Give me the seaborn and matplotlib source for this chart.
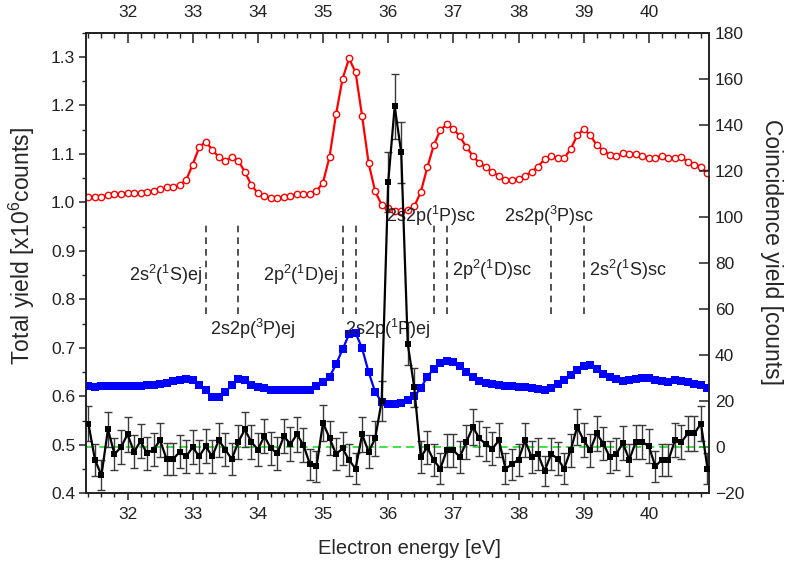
import numpy as np
import pandas as pd
import matplotlib
matplotlib.use("Agg")
import matplotlib.pyplot as plt
import seaborn as sns
from matplotlib.ticker import MultipleLocator, FormatStrFormatter

# ---- data -------------------------------------------------------------
energy = np.round(np.arange(314, 410) / 10.0, 1)  # 31.4 ... 40.9 eV, 0.1 eV steps

yield_scan_a = [
    1.012, 1.012, 1.012, 1.015, 1.017, 1.018,
    1.019, 1.019, 1.019, 1.021, 1.024, 1.027, 1.031, 1.031, 1.036, 1.046,
    1.078, 1.114, 1.125, 1.109, 1.093, 1.086, 1.093, 1.086, 1.063, 1.036,
    1.019, 1.014, 1.010, 1.010, 1.012, 1.014, 1.017, 1.017, 1.017, 1.023,
    1.041, 1.094, 1.182, 1.255, 1.297, 1.268, 1.178, 1.081, 1.023, 0.995,
    0.988, 0.983, 0.982, 0.985, 0.992, 1.021, 1.072, 1.118, 1.149, 1.161,
    1.152, 1.136, 1.114, 1.096, 1.081, 1.072, 1.062, 1.055, 1.047, 1.046,
    1.049, 1.055, 1.063, 1.074, 1.089, 1.096, 1.091, 1.091, 1.110, 1.138,
    1.151, 1.139, 1.118, 1.107, 1.098, 1.096, 1.101, 1.100, 1.100, 1.096,
    1.092, 1.092, 1.096, 1.091, 1.091, 1.093, 1.084, 1.078, 1.074, 1.060,
]

yield_scan_b = [
    0.621, 0.620, 0.621, 0.621, 0.622, 0.621,
    0.621, 0.621, 0.622, 0.623, 0.624, 0.626, 0.628, 0.631, 0.633, 0.635,
    0.634, 0.624, 0.614, 0.599, 0.598, 0.608, 0.624, 0.635, 0.634, 0.623,
    0.620, 0.617, 0.613, 0.613, 0.613, 0.613, 0.613, 0.613, 0.614, 0.621,
    0.630, 0.640, 0.666, 0.697, 0.728, 0.731, 0.699, 0.650, 0.609, 0.588,
    0.584, 0.584, 0.587, 0.592, 0.600, 0.617, 0.640, 0.657, 0.668, 0.673,
    0.670, 0.662, 0.650, 0.640, 0.631, 0.628, 0.625, 0.623, 0.622, 0.621,
    0.619, 0.619, 0.618, 0.616, 0.613, 0.618, 0.625, 0.633, 0.643, 0.654,
    0.662, 0.664, 0.657, 0.647, 0.640, 0.635, 0.632, 0.633, 0.635, 0.637,
    0.637, 0.633, 0.632, 0.630, 0.633, 0.631, 0.629, 0.626, 0.623, 0.617,
]

coincidence = [
    10.3, -5.4, -12.2, 7.8, -3.0, 0.0,
    5.6, -2.0, 2.6, -2.7, -1.0, 3.0, -5.2, -5.2, -2.0, -4.0,
    0.0, -4.0, 0.4, -4.0, 3.0, -1.0, -5.2, 2.3, 7.7, 2.3,
    -1.0, 4.8, -0.5, -2.7, 4.8, 1.3, 5.6, 0.9, -7.4, -8.3,
    10.6, 4.0, -3.0, -0.5, -5.6, -9.3, 5.6, -2.0, 3.8, 20.0,
    115.0, 148.0, 128.0, 45.0, 26.0, -4.2, -0.1, -5.7, -9.3, -1.3,
    -1.3, -4.2, 2.3, 8.8, 3.8, 1.3, -0.6, 3.0, -9.3, -7.4,
    -5.4, 3.0, -4.2, -3.0, -10.4, -3.0, -4.9, -9.3, -1.3, 8.8,
    3.0, -1.3, 6.0, 1.6, -4.2, -3.0, 1.8, -5.4, 2.3, 2.3,
    0.4, -8.3, -5.4, -5.7, 3.0, 2.3, 6.0, 6.0, 10.3, -9.3,
]

coincidence_err = [
    7.8, 7.0, 6.5, 7.6, 7.1, 7.3,
    7.5, 7.2, 7.4, 7.1, 7.2, 7.4, 7.0, 7.0, 7.2, 7.0,
    7.3, 7.0, 7.3, 7.0, 7.4, 7.2, 7.0, 7.4, 7.6, 7.4,
    7.2, 7.5, 7.2, 7.1, 7.5, 7.3, 7.5, 7.3, 6.8, 6.8,
    7.8, 7.4, 7.1, 7.2, 7.0, 6.7, 7.5, 7.2, 7.4, 8.6,
    13.0, 14.0, 13.2, 9.5, 8.5, 7.0, 7.2, 7.0, 6.7, 7.2,
    7.2, 7.0, 7.4, 7.7, 7.4, 7.3, 7.2, 7.4, 6.7, 6.8,
    7.0, 7.4, 7.0, 7.1, 6.6, 7.1, 7.0, 6.7, 7.2, 7.7,
    7.4, 7.2, 7.5, 7.3, 7.0, 7.1, 7.3, 7.0, 7.4, 7.4,
    7.3, 6.8, 7.0, 7.0, 7.4, 7.4, 7.5, 7.5, 7.8, 6.7,
]

# doubly excited states: marker energies (eV) and their labels
state_energies = [33.2, 33.7, 35.3, 35.5, 36.7, 36.9, 38.5, 39.0]
state_labels = [
    "2s$^2$($^1$S)ej", "2s2p($^3$P)ej", "2p$^2$($^1$D)ej", "2s2p($^1$P)ej",
    "2s2p($^1$P)sc", "2s2p($^3$P)sc", "2p$^2$($^1$D)sc", "2s$^2$($^1$S)sc",
]
label_x = [33.15, 33.27, 35.24, 35.33, 35.96, 37.78, 36.98, 39.08]
label_y = [0.850, 0.740, 0.850, 0.740, 0.972, 0.972, 0.860, 0.860]
label_ha = ["right", "left", "right", "left", "left", "left", "left", "left"]

# ---- style ------------------------------------------------------------
sns.set_style("ticks")
plt.rcParams["font.family"] = ["Liberation Sans", "DejaVu Sans"]
plt.rcParams["mathtext.fontset"] = "custom"
plt.rcParams["mathtext.rm"] = "Liberation Sans"
plt.rcParams["mathtext.it"] = "Liberation Sans:italic"
plt.rcParams["mathtext.bf"] = "Liberation Sans:bold"
plt.rcParams["text.color"] = "#222222"

df = pd.DataFrame({
    "energy": energy,
    "scan_a": yield_scan_a,
    "scan_b": yield_scan_b,
    "coinc": coincidence,
})

fig = plt.figure(figsize=(7.86, 5.71), dpi=100)
ax = fig.add_axes([0.110, 0.1361, 0.7926, 0.8066])
ax2 = ax.twinx()

# total yield traces (left axis)
sns.lineplot(data=df, x="energy", y="scan_a", ax=ax, color="#ff0000", lw=1.6,
             marker="o", markersize=4.6, markerfacecolor="white",
             markeredgecolor="#ff0000", markeredgewidth=1.0, zorder=3)
sns.lineplot(data=df, x="energy", y="scan_b", ax=ax, color="#0000ff", lw=1.6,
             marker="s", markersize=5.4, markeredgewidth=0, zorder=3)

# state markers and labels
ax.vlines(state_energies, 0.77, 0.955, colors="#333333",
          linestyles=(0, (4, 3)), lw=1.2, zorder=2)
for txt, xx, yy, ha in zip(state_labels, label_x, label_y, label_ha):
    ax.text(xx, yy, txt, fontsize=13, ha=ha, va="center", color="#222222", zorder=4)

# coincidence yield (right axis)
ax2.axhline(0, color="#22dd22", ls=(0, (5, 3)), lw=1.2, zorder=1)
ax2.errorbar(energy, coincidence, yerr=coincidence_err, fmt="none",
             ecolor="#3a3a3a", elinewidth=1.0, capsize=3.2, capthick=1.0, zorder=2)
sns.lineplot(data=df, x="energy", y="coinc", ax=ax2, color="black", lw=1.6,
             marker="s", markersize=5.0, markeredgewidth=0, zorder=3)

# ---- axes -------------------------------------------------------------
ax.set_xlim(31.37, 40.93)
ax.set_ylim(0.4, 1.35)
ax2.set_ylim(-20, 180)

ax.xaxis.set_major_locator(MultipleLocator(1))
ax.xaxis.set_minor_locator(MultipleLocator(0.2))
ax.yaxis.set_major_locator(MultipleLocator(0.1))
ax.yaxis.set_minor_locator(MultipleLocator(0.05))
ax.yaxis.set_major_formatter(FormatStrFormatter("%.1f"))
ax2.yaxis.set_major_locator(MultipleLocator(20))

ax.tick_params(axis="both", which="both", direction="out", top=False, right=False,
               colors="#222222")
ax.tick_params(which="major", length=5, width=1.1, labelsize=12.5)
ax.tick_params(axis="x", which="major", pad=5)
ax.tick_params(axis="y", which="major", pad=3)
ax.tick_params(which="minor", length=3, width=1.0)
ax2.tick_params(axis="y", which="major", direction="in", length=7, width=1.1,
                labelsize=12.5, pad=4, colors="#222222")

top = ax.secondary_xaxis("top")
top.xaxis.set_major_locator(MultipleLocator(1))
top.xaxis.set_minor_locator(MultipleLocator(0.2))
top.tick_params(which="major", direction="in", length=7, width=1.1,
                labelsize=12.5, pad=9, colors="#222222")
top.tick_params(which="minor", direction="in", length=3.5, width=1.0)

for a in (ax, ax2):
    for s in a.spines.values():
        s.set_linewidth(1.2)
        s.set_color("#222222")
for s in top.spines.values():
    s.set_linewidth(1.2)

ax.set_xlabel("Electron energy [eV]", fontsize=14.5)
ax.xaxis.set_label_coords(0.518, -0.1)
ax.set_ylabel("Total yield [x10$^6$counts]", fontsize=16.5, rotation=90,
              ha="center", va="center")
ax.yaxis.set_label_coords(-0.103, 0.537)
ax2.set_ylabel("Coincidence yield [counts]", fontsize=16.5, rotation=270,
               ha="center", va="center")
ax2.yaxis.set_label_coords(1.1, 0.524)

fig.savefig("out.png", dpi=100)
